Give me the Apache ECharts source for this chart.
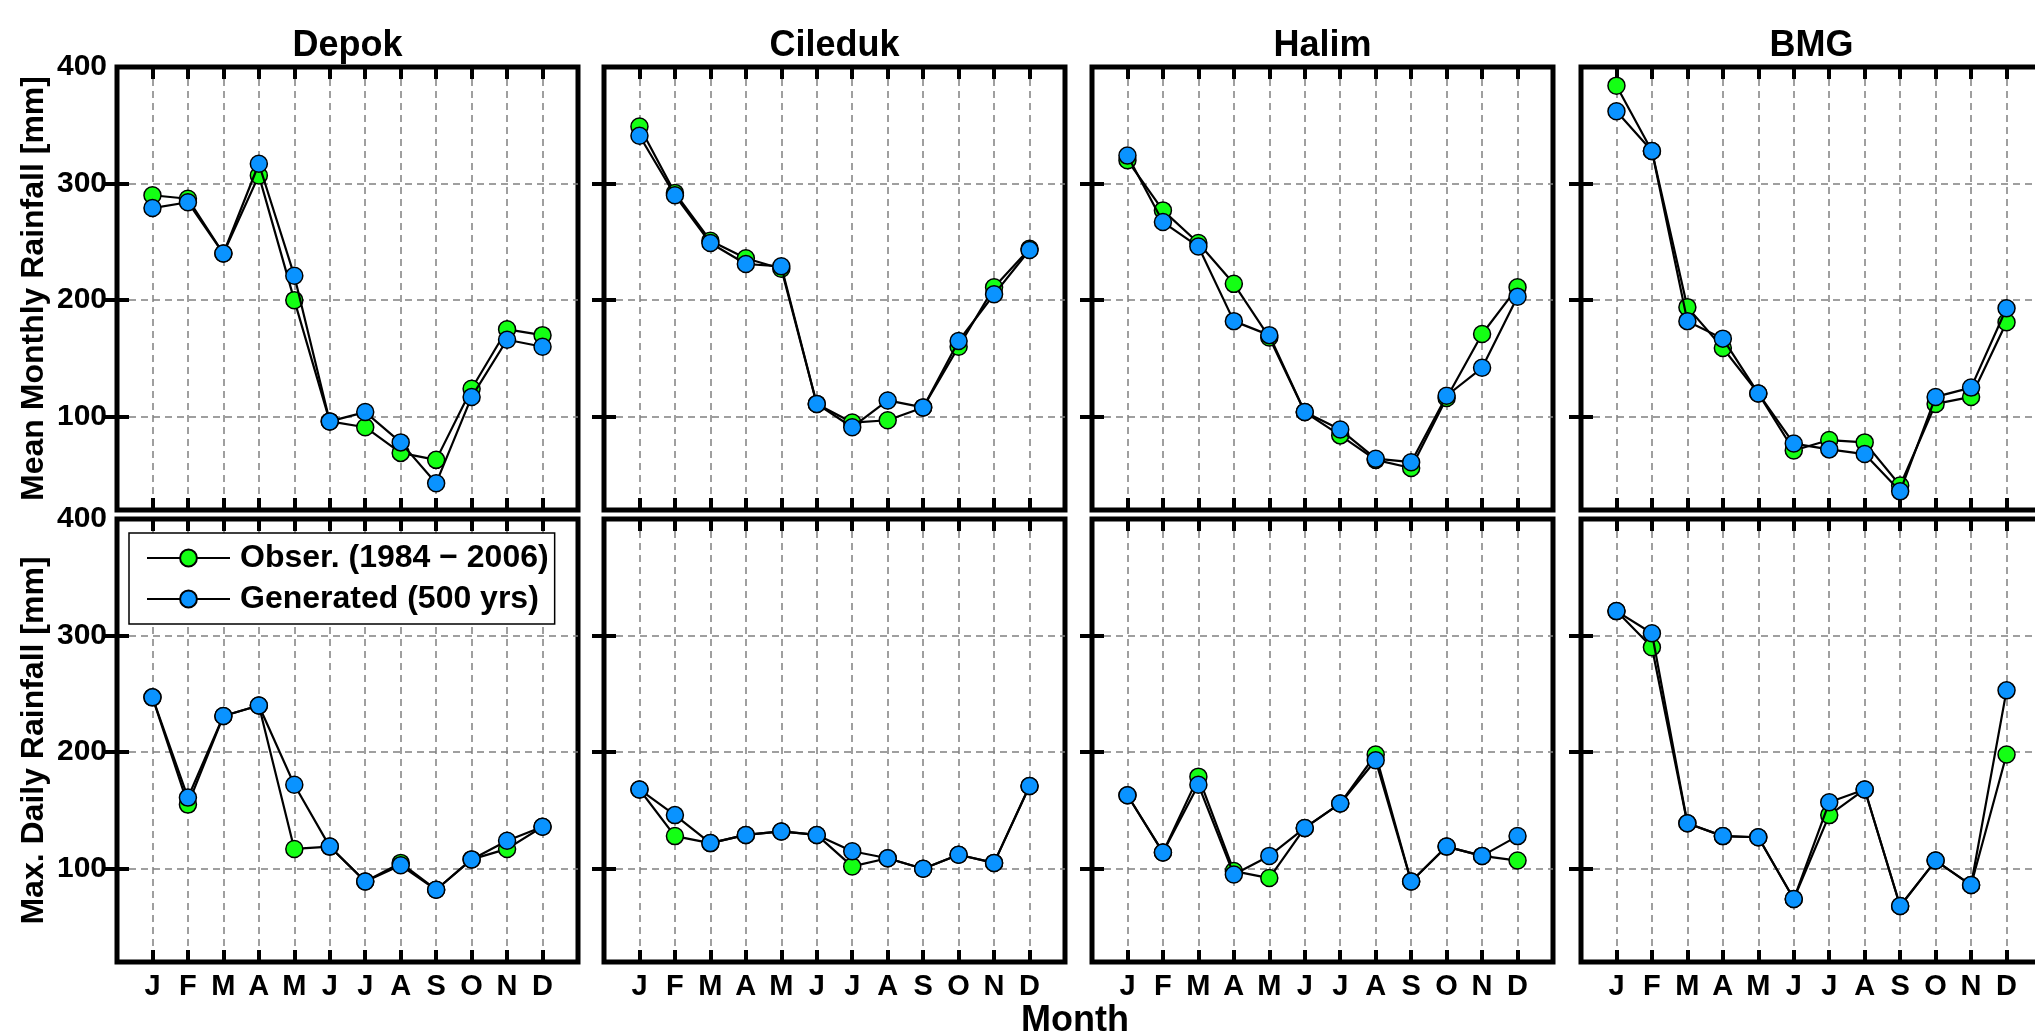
<!DOCTYPE html>
<html>
<head>
<meta charset="utf-8">
<script src="https://cdn.jsdelivr.net/npm/echarts@6/dist/echarts.min.js"></script>
<style>html,body{margin:0;padding:0;background:#fff}#c{width:2035px;height:1032px}</style>
</head>
<body>
<div id="c"></div>
<script>
// ---------------- data ----------------
const months = ['J','F','M','A','M','J','J','A','S','O','N','D'];
const stations = ['Depok','Cileduk','Halim','BMG'];
const yTickLabels = [100, 200, 300, 400];
const yGridValues = [100, 200, 300];
const rowNames = ['Mean Monthly Rainfall [mm]', 'Max. Daily Rainfall [mm]'];
const xTitle = 'Month';
const seriesNames = ['Obser. (1984 \u2212 2006)', 'Generated (500 yrs)'];

// Mean monthly rainfall [mm]
const depokMeanObs   = [290, 287, 240, 307, 200,  96,  91,  69,  63, 124, 175, 170];
const depokMeanGen   = [279, 284, 240, 317, 221,  96, 104,  78,  43, 117, 166, 160];
const ciledukMeanObs = [349, 292, 251, 236, 227, 111,  95,  97, 108, 160, 211, 244];
const ciledukMeanGen = [341, 290, 249, 231, 229, 111,  91, 114, 108, 165, 205, 243];
const halimMeanObs   = [320, 277, 249, 214, 168, 104,  84,  63,  56, 116, 171, 211];
const halimMeanGen   = [324, 267, 246, 182, 170, 104,  89,  64,  61, 118, 142, 203];
const bmgMeanObs     = [384, 328, 194, 159, 120,  71,  80,  78,  41, 111, 117, 181];
const bmgMeanGen     = [362, 328, 182, 167, 120,  77,  72,  68,  36, 117, 125, 193];

// Max. daily rainfall [mm]
const depokMaxObs   = [247, 155, 231, 240, 117, 119,  89, 105,  82, 108, 117, 136];
const depokMaxGen   = [247, 161, 231, 240, 172, 119,  89, 103,  82, 108, 124, 136];
const ciledukMaxObs = [168, 128, 122, 129, 132, 129, 102, 109, 100, 112, 105, 171];
const ciledukMaxGen = [168, 146, 122, 129, 132, 129, 115, 109, 100, 112, 105, 171];
const halimMaxObs   = [163, 114, 179,  98,  92, 135, 156, 198,  89, 119, 111, 107];
const halimMaxGen   = [163, 114, 172,  95, 111, 135, 156, 193,  89, 119, 111, 128];
const bmgMaxObs     = [321, 290, 139, 128, 127,  74, 146, 168,  68, 107,  86, 198];
const bmgMaxGen     = [321, 302, 139, 128, 127,  74, 157, 168,  68, 107,  86, 253];

const panels = [
  [[depokMeanObs, depokMeanGen], [ciledukMeanObs, ciledukMeanGen], [halimMeanObs, halimMeanGen], [bmgMeanObs, bmgMeanGen]],
  [[depokMaxObs, depokMaxGen], [ciledukMaxObs, ciledukMaxGen], [halimMaxObs, halimMaxGen], [bmgMaxObs, bmgMaxGen]]
];

// ---------------- layout / style ----------------
const FONT = '"Liberation Sans", Arial, Helvetica, sans-serif';
const colLeft = [117, 604, 1092, 1581];
const rowTop = [67, 519];
const W = 461, H = 443;
const COLORS = ['#14ff14', '#0a93ff'];
const monthPos = months.map((m, i) => i + 1);

const grid = [], xAxis = [], yAxis = [], series = [], graphic = [];
const tick = (vals) => ({ show: true, inside: true, length: 12, customValues: vals, lineStyle: { color: '#000', width: 4 } });
const dashed = { show: true, lineStyle: { color: '#808080', width: 1.5, type: [7, 5] } };
const lbl = (size) => ({ color: '#000', fontFamily: FONT, fontWeight: 'bold', fontSize: size });

for (let r = 0; r < 2; r++) {
  for (let c = 0; c < 4; c++) {
    const gi = grid.length;
    grid.push({ left: colLeft[c], top: rowTop[r], width: W, height: H, show: true,
      borderColor: '#000', borderWidth: 5, backgroundColor: 'transparent',
      containLabel: false, outerBoundsMode: 'none' });
    // bottom x axis
    xAxis.push({ gridIndex: gi, type: 'value', min: 0, max: 13, position: 'bottom',
      axisLine: { show: false }, axisTick: tick(monthPos),
      axisLabel: Object.assign({ show: r === 1, customValues: monthPos, margin: 10,
        formatter: v => months[Math.round(v) - 1] || '' }, lbl(29)),
      splitLine: dashed });
    // top x axis (ticks only)
    xAxis.push({ gridIndex: gi, type: 'value', min: 0, max: 13, position: 'top',
      axisLine: { show: false }, axisTick: tick(monthPos),
      axisLabel: { show: false }, splitLine: { show: false } });
    // left y axis
    yAxis.push({ gridIndex: gi, type: 'value', min: 20, max: 400, position: 'left',
      axisLine: { show: false }, axisTick: tick(yGridValues),
      axisLabel: Object.assign({ show: c === 0, customValues: yTickLabels, margin: 10 }, lbl(30)),
      splitLine: dashed });
    // right y axis (ticks only)
    yAxis.push({ gridIndex: gi, type: 'value', min: 20, max: 400, position: 'right',
      axisLine: { show: false }, axisTick: tick(yGridValues),
      axisLabel: { show: false }, splitLine: { show: false } });

    panels[r][c].forEach((vals, k) => {
      series.push({
        name: seriesNames[k], type: 'line', xAxisIndex: 2 * gi, yAxisIndex: 2 * gi,
        data: vals.map((v, i) => [monthPos[i], v]),
        symbol: 'circle', symbolSize: 17, showSymbol: true, showAllSymbol: true,
        z: 2 + k, silent: true, animation: false,
        itemStyle: { color: COLORS[k], borderColor: '#000', borderWidth: 1.5 },
        lineStyle: { color: '#000', width: 2.2 },
        emphasis: { disabled: true }
      });
    });

    if (r === 0) {
      graphic.push({ type: 'text', x: colLeft[c] + W / 2, y: 46, silent: true,
        style: { text: stations[c], fill: '#000', fontFamily: FONT, fontWeight: 'bold', fontSize: 36,
          align: 'center', verticalAlign: 'middle' } });
    }
  }
  graphic.push({ type: 'text', x: 34, y: rowTop[r] + H / 2, rotation: Math.PI / 2, silent: true,
    style: { text: rowNames[r], fill: '#000', fontFamily: FONT, fontWeight: 'bold', fontSize: 32,
      align: 'center', verticalAlign: 'middle' } });
}
graphic.push({ type: 'text', x: 1075, y: 1021, silent: true,
  style: { text: xTitle, fill: '#000', fontFamily: FONT, fontWeight: 'bold', fontSize: 36,
    align: 'center', verticalAlign: 'middle' } });

const chart = echarts.init(document.getElementById('c'), null, { renderer: 'canvas' });
chart.setOption({
  animation: false,
  backgroundColor: '#fff',
  grid, xAxis, yAxis, series, graphic,
  legend: {
    data: seriesNames, left: 129, top: 533, orient: 'vertical',
    padding: [9, 6, 9, 17], itemWidth: 83, itemHeight: 21, itemGap: 9,
    backgroundColor: '#fff', borderColor: '#000', borderWidth: 1.5, borderRadius: 0,
    selectedMode: false, z: 10,
    textStyle: { fontFamily: FONT, fontWeight: 'bold', fontSize: 32, color: '#000', lineHeight: 32, padding: [0, 0, 0, 5] }
  }
});
</script>
</body>
</html>
